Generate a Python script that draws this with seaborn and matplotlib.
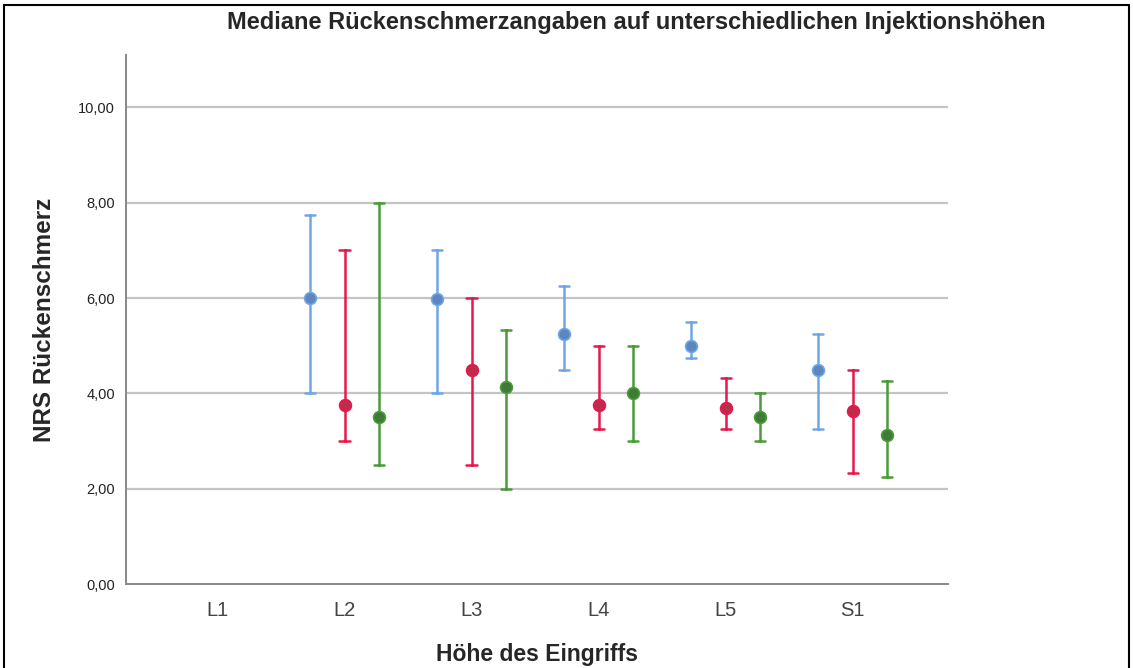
import numpy as np
import pandas as pd
import matplotlib
matplotlib.use("Agg")
import matplotlib.pyplot as plt
from matplotlib.lines import Line2D
import seaborn as sns

# Höhe des Eingriffs (L1 has no data)
levels = ["L1", "L2", "L3", "L4", "L5", "S1"]
groups = ["A", "B", "C"]

# median and error-bar limits per group, per level L2..S1
med_a = [6.00, 5.97, 5.25, 5.00, 4.50]
low_a = [4.00, 4.00, 4.50, 4.75, 3.25]
up_a = [7.75, 7.00, 6.25, 5.50, 5.25]

med_b = [3.75, 4.50, 3.75, 3.70, 3.62]
low_b = [3.00, 2.50, 3.25, 3.25, 2.33]
up_b = [7.00, 6.00, 5.00, 4.33, 4.50]

med_c = [3.50, 4.13, 4.00, 3.50, 3.13]
low_c = [2.50, 2.00, 3.00, 3.00, 2.25]
up_c = [8.00, 5.33, 5.00, 4.00, 4.25]

rows = []
for g, med, low, up in zip(groups, [med_a, med_b, med_c], [low_a, low_b, low_c], [up_a, up_b, up_c]):
    for lv, m, lo, hi in zip(levels[1:], med, low, up):
        for v in (lo, m, hi):
            rows.append({"level": lv, "group": g, "nrs": v})
df = pd.DataFrame(rows)

line_cols = ["#6ea6e6", "#e5194b", "#4c9a3a"]
dot_cols = ["#5b86c0", "#c22a4c", "#3f7a36"]

sns.set_style("white")
plt.rcParams["font.family"] = ["Liberation Sans", "DejaVu Sans"]

fig = plt.figure(figsize=(11.33, 6.68), dpi=100)
ax = fig.add_axes([126 / 1133, 1 - 584 / 668, (948 - 126) / 1133, (584 - 55) / 668])

sns.pointplot(data=df, x="level", y="nrs", hue="group", order=levels, hue_order=groups,
              estimator=np.median, errorbar=lambda v: (v.min(), v.max()),
              palette=line_cols, dodge=0.54, linestyle="none", capsize=0.08,
              err_kws={"linewidth": 1.8}, markersize=8.5, ax=ax, legend=False)

# darker marker faces like the SPSS output
i = 0
for ln in ax.lines:
    if ln.get_marker() == "o":
        ln.set_markerfacecolor(dot_cols[i % 3])
        ln.set_markeredgecolor(line_cols[i % 3])
        ln.set_markeredgewidth(1.2)
        ln.set_zorder(5)
        i += 1

ax.set_ylim(0, 11.1)
ax.set_xlim(-0.72, 5.75)
yt = [0, 2, 4, 6, 8, 10]
ax.set_yticks(yt)
ax.set_yticklabels([f"{t:.2f}".replace(".", ",") for t in yt])
for t in yt[1:]:
    ax.axhline(t, color="#c4c4c4", lw=1.6, zorder=0)

ax.tick_params(axis="y", length=0, pad=8, labelsize=10.5, labelcolor="#222222")
ax.tick_params(axis="x", length=0, pad=12, labelsize=14.5, labelcolor="#444444")
for s in ["top", "right"]:
    ax.spines[s].set_visible(False)
for s in ["left", "bottom"]:
    ax.spines[s].set_color("#888888")
    ax.spines[s].set_linewidth(1.4)

ax.set_xlabel("")
ax.set_ylabel("")
fig.text(45 / 1133, 1 - 320 / 668, "NRS Rückenschmerz", rotation=90, ha="center", va="center",
         fontsize=17.5, fontweight="bold")
fig.text(537 / 1133, 1 - 655 / 668, "Höhe des Eingriffs", ha="center", va="center",
         fontsize=16.5, fontweight="bold")
fig.text(636 / 1133, 1 - 22 / 668, "Mediane Rückenschmerzangaben auf unterschiedlichen Injektionshöhen",
         ha="center", va="center", fontsize=17, fontweight="bold")

# frame around the image
fig.add_artist(Line2D([4 / 1133, 4 / 1133], [0, 1 - 5 / 668], transform=fig.transFigure, color="black", lw=1.5))
fig.add_artist(Line2D([4 / 1133, 1129 / 1133], [1 - 5 / 668, 1 - 5 / 668], transform=fig.transFigure, color="black", lw=1.5))
fig.add_artist(Line2D([1129 / 1133, 1129 / 1133], [0, 1 - 5 / 668], transform=fig.transFigure, color="black", lw=1.5))

fig.savefig("out.png", dpi=100)
